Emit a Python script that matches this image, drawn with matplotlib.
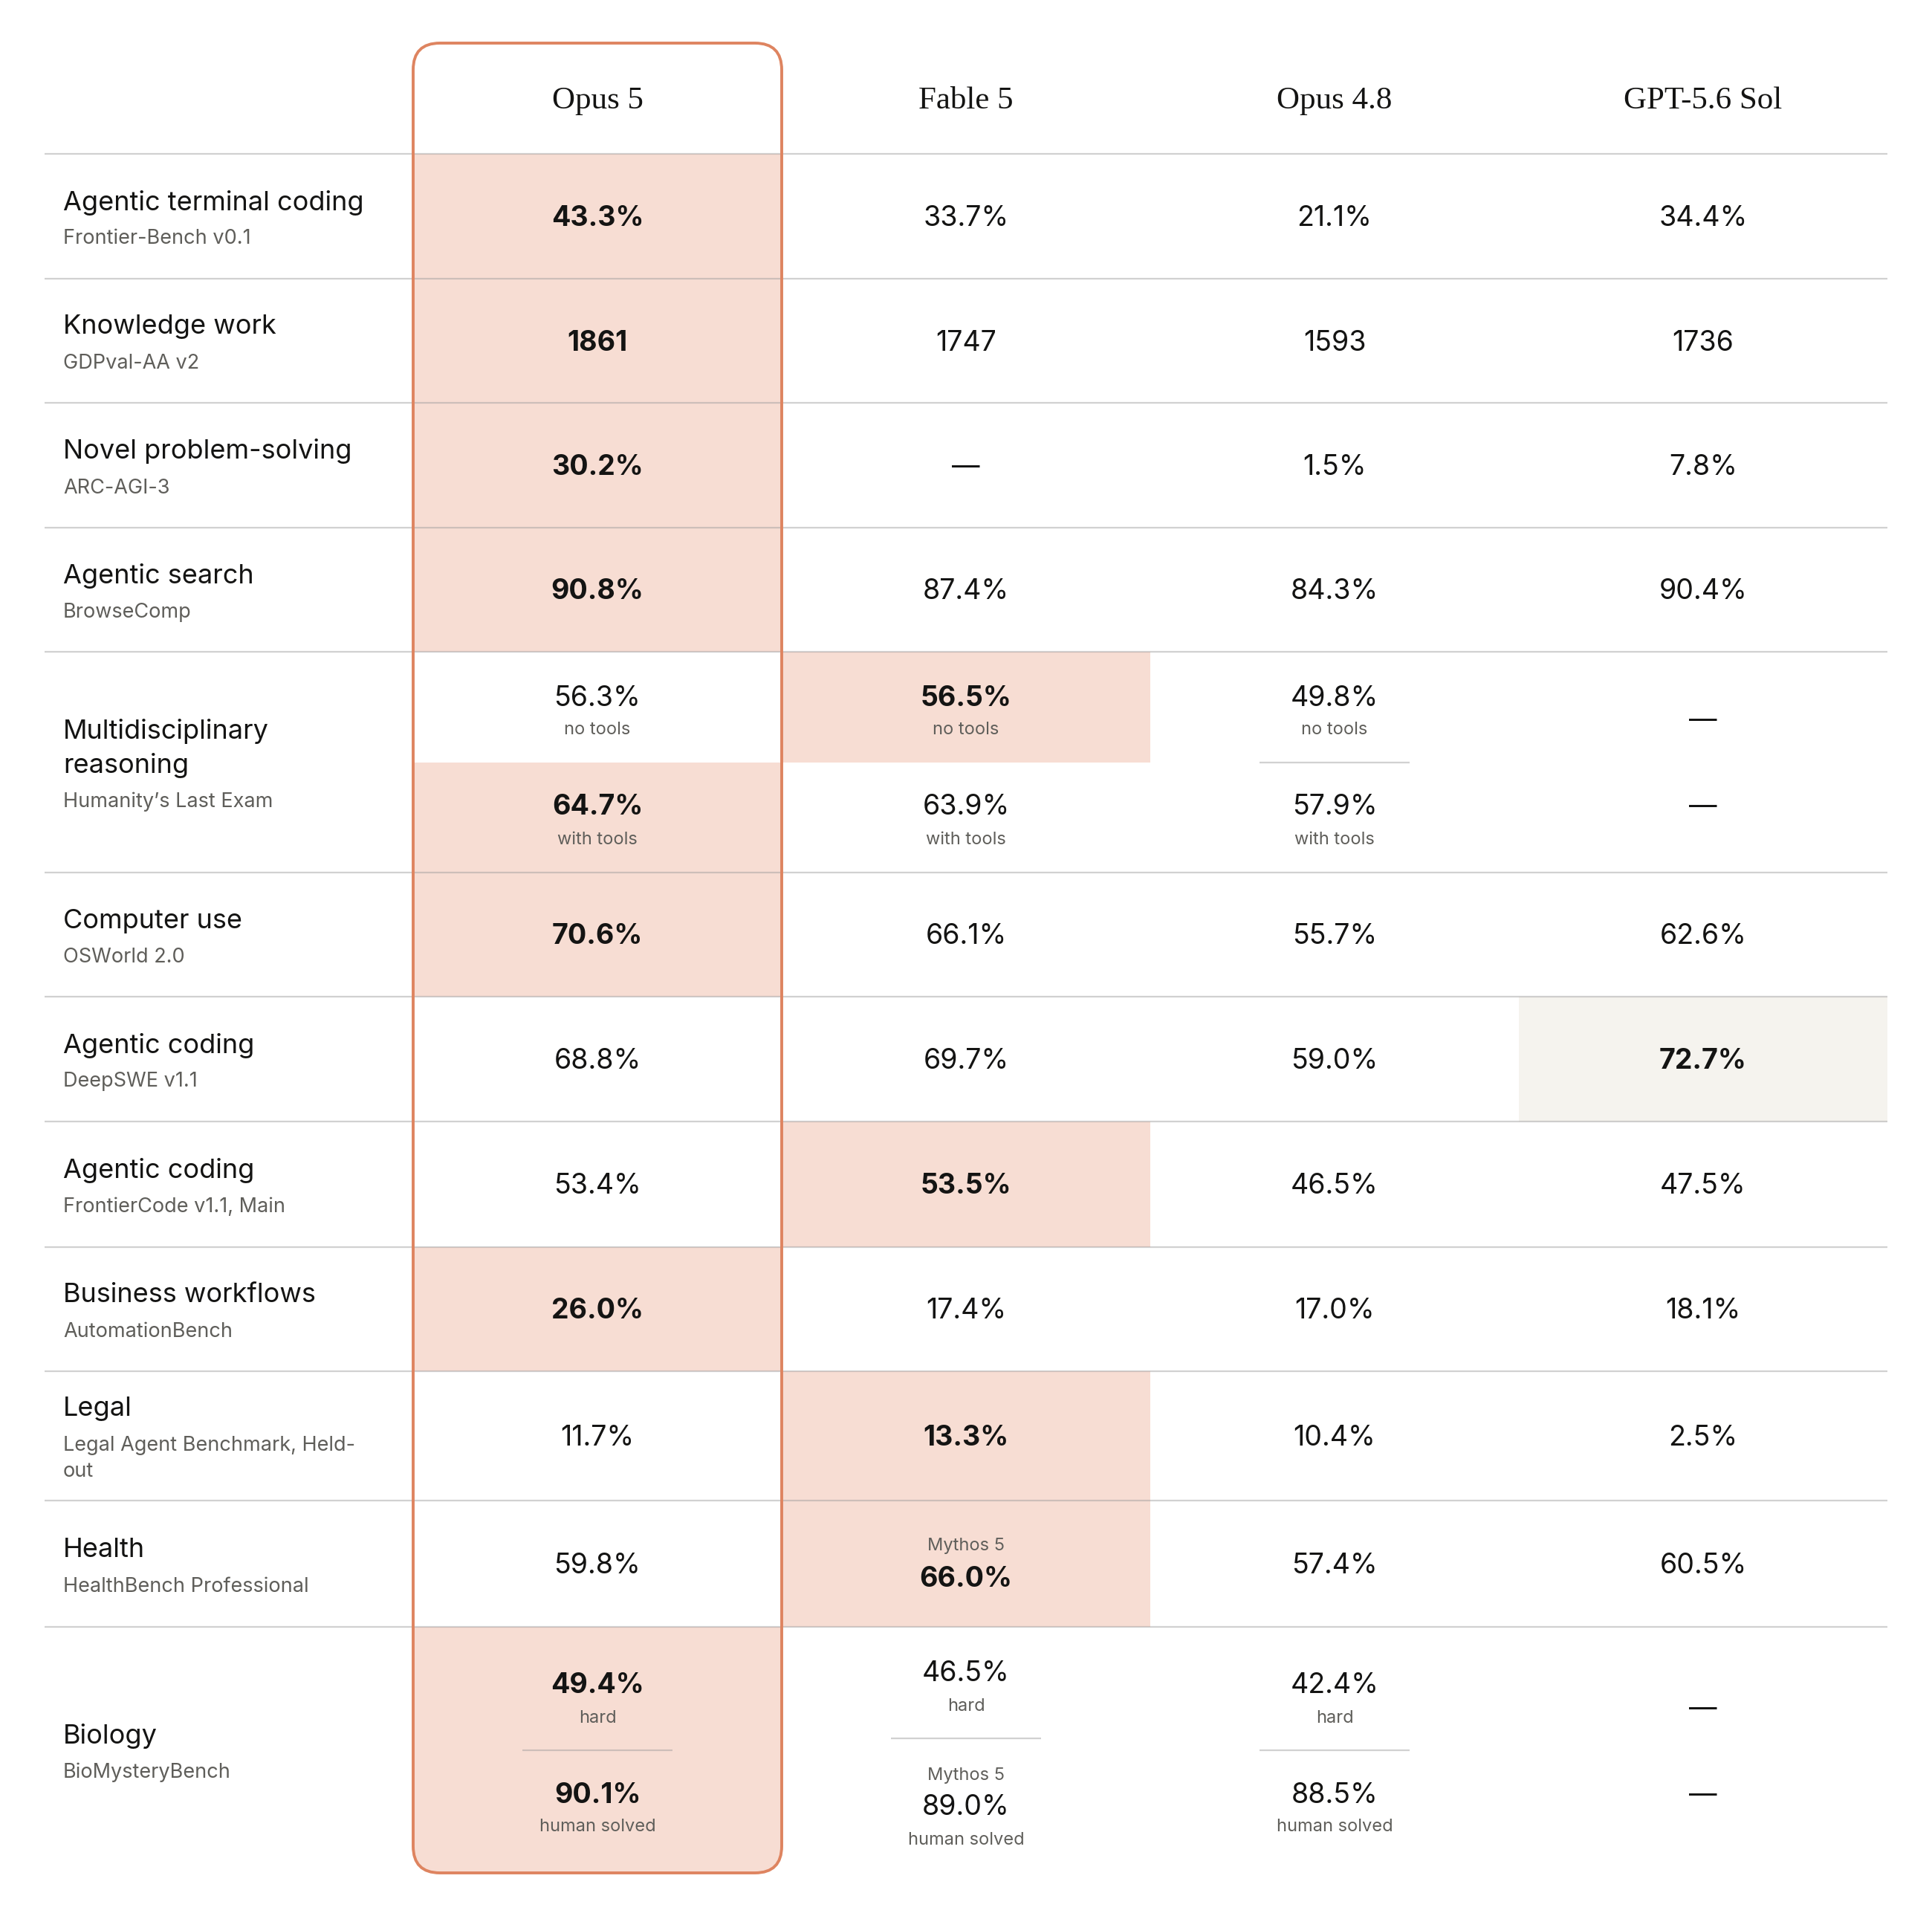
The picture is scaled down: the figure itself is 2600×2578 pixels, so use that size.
import matplotlib
matplotlib.use("Agg")
from matplotlib import pyplot as plt
from matplotlib.patches import Rectangle, FancyBboxPatch

models = ["Opus 5", "Fable 5", "Opus 4.8", "GPT-5.6 Sol"]
tasks = ["Agentic terminal coding", "Knowledge work", "Novel problem-solving",
         "Agentic search", "Multidisciplinary\nreasoning", "Computer use",
         "Agentic coding", "Agentic coding", "Business workflows", "Legal",
         "Health", "Biology"]
benchmarks = ["Frontier-Bench v0.1", "GDPval-AA v2", "ARC-AGI-3", "BrowseComp",
              "Humanity\u2019s Last Exam", "OSWorld 2.0", "DeepSWE v1.1",
              "FrontierCode v1.1, Main", "AutomationBench",
              "Legal Agent Benchmark, Held-\nout", "HealthBench Professional",
              "BioMysteryBench"]

# split rows hold (upper, lower) results
opus5 = ["43.3%", "1861", "30.2%", "90.8%", ("56.3%", "64.7%"), "70.6%",
         "68.8%", "53.4%", "26.0%", "11.7%", "59.8%", ("49.4%", "90.1%")]
fable5 = ["33.7%", "1747", "\u2014", "87.4%", ("56.5%", "63.9%"), "66.1%",
          "69.7%", "53.5%", "17.4%", "13.3%", "66.0%", ("46.5%", "89.0%")]
opus48 = ["21.1%", "1593", "1.5%", "84.3%", ("49.8%", "57.9%"), "55.7%",
          "59.0%", "46.5%", "17.0%", "10.4%", "57.4%", ("42.4%", "88.5%")]
gpt56 = ["34.4%", "1736", "7.8%", "90.4%", ("\u2014", "\u2014"), "62.6%",
         "72.7%", "47.5%", "18.1%", "2.5%", "60.5%", ("\u2014", "\u2014")]
scores = [opus5, fable5, opus48, gpt56]

split_notes = {4: ("no tools", "with tools"), 11: ("hard", "human solved")}
# (model, row, part) reported with Mythos 5
mythos = {(1, 10, 0), (1, 11, 1)}
# index of best model per row (tuple for split rows)
best = [0, 0, 0, 0, (1, 0), 0, 3, 1, 0, 1, 1, (0, 0)]

# layout (pixels)
W, H = 2600, 2578
X0, X1 = 60, 2540
colw = (X1 - X0) / 5
row_edges = [207, 375, 542, 710, 877, 1174, 1341, 1509, 1678, 1845, 2019, 2189, 2520]
box_top = 58
DY = 3  # small nudge down for text

INK = "#141413"
GREY = "#5f5e5a"
ORANGE = "#de8460"
SALMON = "#f7ddd3"
BEIGE = "#f5f3ee"
SANS = ["Inter", "DejaVu Sans"]
SERIF = ["Liberation Serif", "DejaVu Serif"]
VAL = 27
NOTE = 17

fig = plt.figure(figsize=(W / 100, H / 100), dpi=100)
ax = fig.add_axes([0, 0, 1, 1])
ax.set_xlim(0, W)
ax.set_ylim(H, 0)
ax.axis("off")

box = FancyBboxPatch((X0 + colw, box_top), colw, row_edges[-1] - box_top,
                     boxstyle="round,pad=0,rounding_size=36",
                     fc="none", ec=ORANGE, lw=2.8, zorder=5)
ax.add_patch(box)

def cx(m):
  return X0 + colw * (m + 1.5)

def fill(m, y0, y1):
  color = BEIGE if m == 3 else SALMON
  r = Rectangle((X0 + colw * (m + 1), y0), colw, y1 - y0, fc=color, ec="none", zorder=1)
  ax.add_patch(r)
  if m == 0:
    r.set_clip_path(box)

def hline(xa, xb, y):
  ax.plot([xa, xb], [y, y], color="#9a9a9a", alpha=0.45, lw=1.6,
          solid_capstyle="butt", zorder=2)

def put(x, y, s, size, color=INK, bold=False, ha="center"):
  ax.text(x, y + DY, s, family=SANS, fontsize=size, color=color,
          fontweight="bold" if bold else "normal",
          ha=ha, va="center", zorder=6)

# header
for m, name in enumerate(models):
  ax.text(cx(m), 136, name, family=SERIF, fontsize=31, color=INK,
          ha="center", va="center", zorder=6)

for y in row_edges[:-1]:
  hline(X0, X1, y)

for i in range(len(tasks)):
  y0, y1 = row_edges[i], row_edges[i + 1]
  c = (y0 + y1) / 2

  # row label block
  lab = tasks[i].split("\n")
  sub = benchmarks[i].split("\n")
  offs = [46 * k for k in range(len(lab))]
  last = offs[-1] + 49
  offs_sub = [last + 35 * k for k in range(len(sub))]
  shift = c + 3 - (offs[0] + offs_sub[-1]) / 2
  for t, o in zip(lab, offs):
    put(85, o + shift, t, 26, ha="left")
  for t, o in zip(sub, offs_sub):
    put(85, o + shift, t, 19.5, color=GREY, ha="left")

  if i in split_notes:
    mid = c
    for m in range(4):
      top, bot = scores[m][i]
      wins = [best[i][0] == m, best[i][1] == m]
      if wins[0]:
        fill(m, y0, mid)
      if wins[1]:
        fill(m, mid, y1)
      if m == 3:
        put(cx(m), mid - 58, top, VAL)
        put(cx(m), mid + 58, bot, VAL)
        continue
      sep = mid - 16 if (m, i, 1) in mythos else mid
      if wins[0] == wins[1]:
        hline(cx(m) - 101, cx(m) + 101, sep)
      put(cx(m), sep - 89, top, VAL, bold=wins[0])
      put(cx(m), sep - 46, split_notes[i][0], NOTE, color=GREY)
      dy = 0
      if (m, i, 1) in mythos:
        put(cx(m), sep + 47, "Mythos 5", NOTE, color=GREY)
        dy = 33
      put(cx(m), sep + 58 + dy, bot, VAL, bold=wins[1])
      put(cx(m), sep + 101 + dy, split_notes[i][1], NOTE, color=GREY)
  else:
    for m in range(4):
      win = best[i] == m
      if win:
        fill(m, y0, y1)
      y = c
      if (m, i, 0) in mythos:
        put(cx(m), c - 27, "Mythos 5", NOTE, color=GREY)
        y = c + 18
      put(cx(m), y, scores[m][i], VAL, bold=win)

fig.savefig("out.png", dpi=100, facecolor="white")
